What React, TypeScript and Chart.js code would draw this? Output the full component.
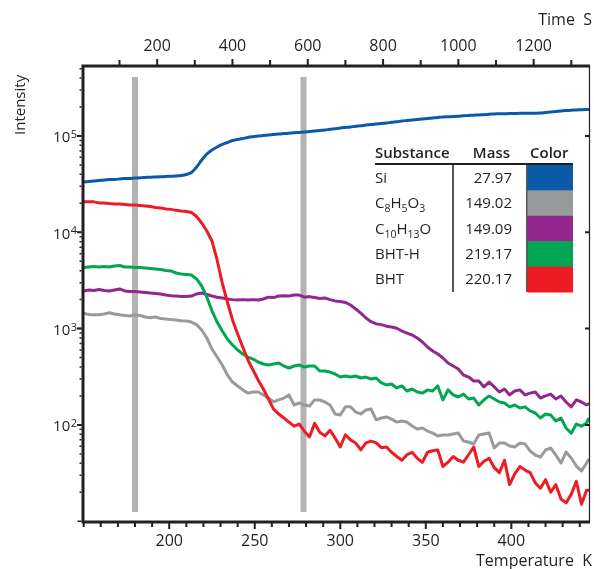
import { useEffect, useRef } from 'react';
import { Chart, registerables } from 'chart.js';

Chart.register(...registerables);

// ---------- data ----------
const temperatureK = [
  150, 153, 156, 159, 162, 165, 168, 171, 174, 177, 180, 183, 186, 189, 192, 195, 198, 201, 204, 207,
  210, 213, 216, 219, 222, 225, 228, 231, 234, 237, 240, 243, 246, 249, 252, 255, 258, 261, 264, 267,
  270, 273, 276, 279, 282, 285, 288, 291, 294, 297, 300, 303, 306, 309, 312, 315, 318, 321, 324, 327,
  330, 333, 336, 339, 342, 345, 348, 351, 354, 357, 360, 363, 366, 369, 372, 375, 378, 381, 384, 387,
  390, 393, 396, 399, 402, 405, 408, 411, 414, 417, 420, 423, 426, 429, 432, 435, 438, 441, 444, 445,
];

const siValues = [
  33300, 33700, 34100, 34500, 34900, 35400, 35400, 35800, 36200, 36200,
  36600, 36800, 37100, 37400, 37500, 37700, 38000, 38200, 38400, 38900,
  39800, 41800, 47600, 56300, 65000, 71500, 76900, 81600, 85600, 89800,
  92000, 94200, 96500, 98300, 100000, 101200, 102400, 103600, 104900, 105900,
  106900, 108000, 109000, 110000, 111400, 112700, 114100, 115400, 117400, 118800,
  121100, 122600, 124000, 126100, 127600, 130100, 131300, 133200, 134800, 136400,
  138800, 140800, 143200, 144900, 146600, 148400, 150200, 152000, 153800, 155700,
  157500, 158300, 159400, 160500, 162100, 163300, 164500, 165300, 166500, 168100,
  169300, 170100, 170500, 170900, 171300, 171800, 172200, 172200, 172600, 173400,
  175500, 177600, 179800, 181900, 184100, 185500, 186400, 187800, 188800, 188800,
];

const c8h5o3Values = [
  1440, 1400, 1390, 1390, 1420, 1460, 1420, 1390, 1370, 1350,
  1390, 1370, 1320, 1300, 1320, 1270, 1260, 1240, 1230, 1210,
  1200, 1170, 1100, 967, 799, 614, 507, 419, 330, 279,
  254, 231, 214, 220, 220, 205, 190, 174, 182, 190,
  205, 161, 169, 161, 157, 182, 182, 173, 161, 130,
  127, 154, 154, 136, 130, 143, 146, 113, 118, 121,
  115, 107, 110, 107, 97.4, 90.7, 92.9, 86.4, 82.4, 76.7,
  78.6, 78.6, 80.5, 82.4, 68.1, 66.5, 63.4, 78.6, 80.5, 82.4,
  57.6, 64.8, 64.8, 60.4, 59.0, 64.8, 63.4, 53.6, 48.7, 46.4,
  54.9, 57.6, 48.7, 40.2, 52.3, 45.3, 37.4, 33.3, 40.2, 43.2,
];

const c10h13oValues = [
  2460, 2520, 2490, 2550, 2490, 2460, 2520, 2580, 2460, 2430,
  2430, 2400, 2370, 2340, 2320, 2290, 2230, 2200, 2180, 2150,
  2150, 2180, 2290, 2340, 2260, 2180, 2120, 2080, 2030, 2000,
  1980, 2000, 1980, 2000, 1980, 2030, 2120, 2100, 2180, 2200,
  2180, 2230, 2230, 2120, 2150, 2100, 2050, 2080, 2000, 1940,
  1910, 1870, 1760, 1600, 1450, 1290, 1180, 1120, 1100, 1060,
  1040, 1010, 944, 900, 858, 799, 726, 644, 586, 545,
  495, 439, 409, 381, 330, 314, 286, 286, 248, 279,
  248, 220, 236, 205, 225, 231, 205, 214, 220, 190,
  200, 209, 186, 200, 173, 154, 182, 173, 161, 165,
];

const bhtHValues = [
  4310, 4360, 4420, 4360, 4420, 4360, 4470, 4520, 4360, 4360,
  4310, 4310, 4260, 4210, 4160, 4110, 4010, 3970, 3780, 3690,
  3650, 3600, 3280, 2770, 2120, 1530, 1170, 944, 780, 676,
  600, 545, 507, 483, 450, 429, 419, 429, 439, 409,
  389, 409, 419, 399, 409, 409, 363, 363, 354, 338,
  314, 322, 314, 322, 307, 314, 300, 307, 273, 260,
  266, 242, 254, 225, 236, 220, 214, 231, 225, 254,
  182, 231, 205, 195, 209, 186, 190, 161, 182, 200,
  186, 173, 169, 154, 161, 150, 154, 140, 133, 118,
  130, 127, 110, 118, 93, 82, 102, 97, 105, 115,
];

const bhtValues = [
  20800, 20700, 20700, 20200, 20200, 19900, 19700, 19700, 19450, 19200,
  19200, 19000, 18800, 18550, 18100, 17900, 17500, 17300, 16900, 16650,
  16450, 16070, 14600, 12500, 10330, 8120, 5160, 2980, 1890, 1230,
  879, 644, 472, 372, 293, 236, 186, 146, 130, 118,
  107, 97, 102, 86, 75, 104, 84, 77, 88, 73,
  59, 79, 70, 65, 55, 65, 68, 65, 58, 59,
  52, 47, 43, 49, 52, 45, 41, 52, 54, 55,
  37, 41, 47, 43, 41, 49, 59, 37, 42, 45,
  36, 32, 43, 24, 31, 37, 34, 32, 25, 22,
  27, 20, 24, 17, 15.5, 19, 26, 15, 21, 21,
];

const substanceLabels = ['Si', 'C_8H_5O_3', 'C_{10}H_{13}O', 'BHT-H', 'BHT'];
const substanceMasses = ['27.97', '149.02', '149.09', '219.17', '220.17'];
const substanceColors = ['#0a5aa8', '#999a9c', '#92278f', '#00a651', '#ed1c24'];

const markerTemps = [180, 278.5];
const markerIntensityRange = [410000, 12.5];

const tempTicks = [200, 250, 300, 350, 400];
const timeTicks = [200, 400, 600, 800, 1000, 1200];
const intensityTicks = [100, 1000, 10000, 100000];
const intensityTickExponents = ['2', '3', '4', '5'];

const tempRange = [149.6, 445.4];
const timeRange = [3, 1347];
const intensityRange = [9.82, 533000];

const FONT = '"Open Sans", "DejaVu Sans", sans-serif';
const INK = '#231f20';

function parseFormula(s: string) {
  const parts: { t: string; sub: boolean }[] = [];
  let i = 0;
  while (i < s.length) {
    if (s[i] === '_') {
      if (s[i + 1] === '{') {
        const end = s.indexOf('}', i);
        parts.push({ t: s.slice(i + 2, end), sub: true });
        i = end + 1;
      } else {
        parts.push({ t: s[i + 1], sub: true });
        i += 2;
      }
    } else {
      let j = i;
      while (j < s.length && s[j] !== '_') j++;
      parts.push({ t: s.slice(i, j), sub: false });
      i = j;
    }
  }
  return parts;
}

const framePlugin = {
  id: 'frameAxes',
  afterDatasetsDraw(chart: any) {
    const { ctx, chartArea } = chart;
    const { left, right, top, bottom } = chartArea;
    const xs = chart.scales.x;
    const ys = chart.scales.y;
    const ts = chart.scales.xTop;
    ctx.save();
    ctx.strokeStyle = INK;
    ctx.fillStyle = INK;
    ctx.lineCap = 'butt';

    // frame
    ctx.lineWidth = 3;
    ctx.beginPath();
    ctx.moveTo(left, top - 1.5);
    ctx.lineTo(left, bottom + 1.5);
    ctx.moveTo(left - 1.5, bottom);
    ctx.lineTo(right + 1, bottom);
    ctx.moveTo(left - 1.5, top);
    ctx.lineTo(right + 1, top);
    ctx.stroke();
    ctx.lineWidth = 1.2;
    ctx.beginPath();
    ctx.moveTo(right + 0.5, top);
    ctx.lineTo(right + 0.5, bottom);
    ctx.stroke();

    // bottom ticks (minor every 10 K)
    ctx.lineWidth = 2;
    ctx.beginPath();
    for (let v = 150; v <= tempRange[1]; v += 10) {
      const px = xs.getPixelForValue(v);
      const major = tempTicks.includes(v);
      ctx.moveTo(px, bottom);
      ctx.lineTo(px, bottom + (major ? 7 : 5));
    }
    ctx.stroke();
    ctx.font = `16px ${FONT}`;
    ctx.textAlign = 'center';
    ctx.textBaseline = 'middle';
    tempTicks.forEach((v) => ctx.fillText(String(v), xs.getPixelForValue(v), bottom + 19));
    ctx.textAlign = 'right';
    ctx.fillText('Temperature  K', 592, 561);

    // top ticks (minor every 100 s)
    ctx.beginPath();
    for (let v = 100; v <= timeRange[1]; v += 100) {
      const px = ts.getPixelForValue(v);
      const major = timeTicks.includes(v);
      ctx.moveTo(px, top);
      ctx.lineTo(px, top - (major ? 7 : 6));
    }
    ctx.stroke();
    ctx.textAlign = 'center';
    timeTicks.forEach((v) => ctx.fillText(String(v), ts.getPixelForValue(v), 46));
    ctx.textAlign = 'right';
    ctx.fillText('Time  S', 592, 20);

    // left axis ticks
    ctx.lineWidth = 1.5;
    ctx.beginPath();
    for (let e = 1; e <= 5; e++) {
      for (let m = 1; m <= 9; m++) {
        const v = m * Math.pow(10, e);
        if (v < intensityRange[0] || v > intensityRange[1]) continue;
        const py = ys.getPixelForValue(v);
        ctx.moveTo(left - 1.5, py);
        ctx.lineTo(left - (m === 1 ? 5.5 : 3.5), py);
      }
    }
    ctx.stroke();
    ctx.lineWidth = 2;
    ctx.beginPath();
    intensityTicks.forEach((v) => {
      const py = ys.getPixelForValue(v);
      ctx.moveTo(left - 1.5, py);
      ctx.lineTo(left - 6, py);
      ctx.moveTo(right, py);
      ctx.lineTo(right - 4, py);
    });
    ctx.stroke();

    // left labels 10^n
    intensityTicks.forEach((v, i) => {
      const py = ys.getPixelForValue(v);
      ctx.font = `11px ${FONT}`;
      const supW = ctx.measureText(intensityTickExponents[i]).width;
      ctx.textAlign = 'left';
      ctx.textBaseline = 'alphabetic';
      const supX = 77 - supW;
      ctx.fillText(intensityTickExponents[i], supX, py + 2);
      ctx.font = `15px ${FONT}`;
      ctx.textAlign = 'right';
      ctx.fillText('10', supX - 0.5, py + 6.5);
    });

    // y title
    ctx.save();
    ctx.translate(25, 135);
    ctx.rotate(-Math.PI / 2);
    ctx.font = `15px ${FONT}`;
    ctx.textAlign = 'left';
    ctx.textBaseline = 'alphabetic';
    ctx.fillText('Intensity', 0, 0);
    ctx.restore();

    // legend table
    const tx0 = 375;
    const colMassRight = 512;
    const colLine1 = 453;
    const colLine2 = 527;
    const tRight = 573;
    const headerBase = 158;
    const rowTop = 165;
    const rowH = 25.4;
    ctx.font = `600 15px ${FONT}`;
    ctx.textBaseline = 'alphabetic';
    ctx.textAlign = 'left';
    ctx.fillText('Substance', tx0, headerBase);
    ctx.textAlign = 'right';
    ctx.fillText('Mass', 510, headerBase);
    ctx.textAlign = 'left';
    ctx.fillText('Color', 530, headerBase);
    ctx.lineWidth = 2;
    ctx.beginPath();
    ctx.moveTo(tx0, 164);
    ctx.lineTo(tRight, 164);
    ctx.stroke();
    ctx.lineWidth = 1.5;
    ctx.beginPath();
    ctx.moveTo(colLine1, 165);
    ctx.lineTo(colLine1, rowTop + rowH * substanceLabels.length);
    ctx.moveTo(colLine2, 165);
    ctx.lineTo(colLine2, rowTop + rowH * substanceLabels.length);
    ctx.stroke();
    substanceLabels.forEach((lab, i) => {
      const yTop = rowTop + rowH * i;
      const base = yTop + rowH / 2 + 5;
      ctx.fillStyle = substanceColors[i];
      ctx.fillRect(colLine2 + 0.5, yTop, tRight - colLine2 - 0.5, rowH + 0.5);
      ctx.fillStyle = INK;
      let cx = tx0;
      parseFormula(lab).forEach((p) => {
        ctx.font = p.sub ? `10.5px ${FONT}` : `15px ${FONT}`;
        ctx.textAlign = 'left';
        ctx.fillText(p.t, cx, base + (p.sub ? 4 : 0));
        cx += ctx.measureText(p.t).width;
      });
      ctx.font = `15px ${FONT}`;
      ctx.textAlign = 'right';
      ctx.fillText(substanceMasses[i], colMassRight, base);
    });
    ctx.restore();
  },
};

export default function App() {
  const canvasRef = useRef<HTMLCanvasElement | null>(null);

  useEffect(() => {
    const canvas = canvasRef.current;
    if (!canvas) return;
    const series = [siValues, c8h5o3Values, c10h13oValues, bhtHValues, bhtValues];
    const datasets: any[] = series.map((vals, i) => ({
      label: substanceLabels[i],
      data: temperatureK.map((t, k) => ({ x: t, y: vals[k] })),
      borderColor: substanceColors[i],
      backgroundColor: substanceColors[i],
      borderWidth: 3,
      pointRadius: 0,
      tension: i === 0 ? 0.3 : 0,
      borderJoinStyle: 'round',
      borderCapStyle: 'round',
      fill: false,
      order: 4 - i,
    }));
    markerTemps.forEach((t) => {
      datasets.push({
        label: 'marker',
        data: markerIntensityRange.map((v) => ({ x: t, y: v })),
        borderColor: '#b3b3b3',
        borderWidth: 6,
        pointRadius: 0,
        borderCapStyle: 'butt',
        fill: false,
        order: 10,
      });
    });

    const chart = new Chart(canvas, {
      type: 'line',
      data: { datasets },
      options: {
        responsive: false,
        animation: false,
        devicePixelRatio: 1,
        layout: { padding: { left: 83, right: 5, top: 66, bottom: 47 } },
        plugins: { legend: { display: false }, tooltip: { enabled: false } },
        events: [],
        scales: {
          x: { type: 'linear', min: tempRange[0], max: tempRange[1], display: false },
          xTop: { type: 'linear', position: 'top', min: timeRange[0], max: timeRange[1], display: false },
          y: { type: 'logarithmic', min: intensityRange[0], max: intensityRange[1], display: false },
        },
      },
      plugins: [framePlugin],
    });
    return () => chart.destroy();
  }, []);

  return (
    <div style={{ position: 'absolute', left: 0, top: 0, width: 594, height: 569, background: '#fff' }}>
      <canvas ref={canvasRef} width={594} height={569} style={{ width: 594, height: 569 }} />
    </div>
  );
}
